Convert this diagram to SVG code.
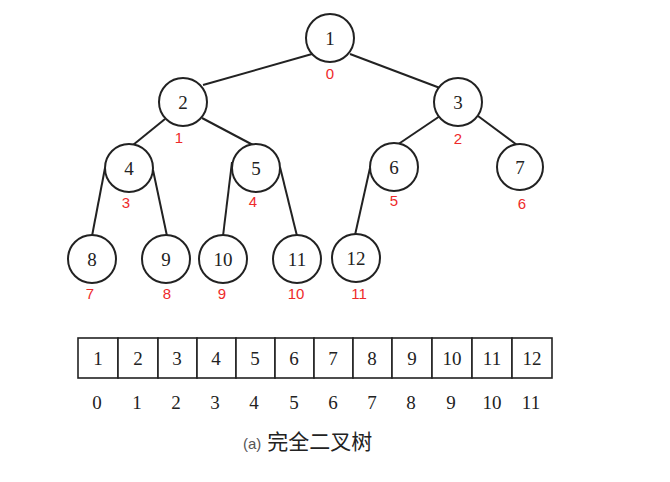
<svg xmlns="http://www.w3.org/2000/svg" width="670" height="482" viewBox="0 0 670 482">
<style>
.n circle{fill:#fff;stroke:#222;stroke-width:2}
.v{font-family:"Liberation Serif",serif;font-size:19px;fill:#222;text-anchor:middle;dominant-baseline:central}
.i{font-family:"Liberation Sans",sans-serif;font-size:15px;fill:#ee2a2a;text-anchor:middle;dominant-baseline:central}
#edges line{stroke:#222;stroke-width:2}
.cell{fill:#fff;stroke:#222;stroke-width:1.6}
.a{font-family:"Liberation Serif",serif;font-size:19px;fill:#222;text-anchor:middle;dominant-baseline:central}
</style>
<rect width="670" height="482" fill="#fff"/>
<g id="edges">
<line x1="312" y1="54" x2="203" y2="85"/>
<line x1="350" y1="54" x2="440" y2="88"/>
<line x1="165" y1="119" x2="133" y2="145"/>
<line x1="202" y1="118" x2="253" y2="145"/>
<line x1="440" y1="116" x2="397" y2="145"/>
<line x1="478" y1="116" x2="517" y2="145"/>
<line x1="105" y1="168" x2="92" y2="236"/>
<line x1="153" y1="170" x2="167" y2="236"/>
<line x1="232" y1="162" x2="223" y2="236"/>
<line x1="280" y1="167" x2="297" y2="236"/>
<line x1="370" y1="168" x2="355" y2="235"/>
</g>
<g id="n1" class="n"><circle cx="330" cy="38" r="24"/><text class="v" x="330" y="38">1</text><text class="i" x="330" y="73">0</text></g>
<g id="n2" class="n"><circle cx="183" cy="102" r="24"/><text class="v" x="183" y="102">2</text><text class="i" x="179" y="137">1</text></g>
<g id="n3" class="n"><circle cx="458" cy="102" r="24"/><text class="v" x="458" y="102">3</text><text class="i" x="458" y="138">2</text></g>
<g id="n4" class="n"><circle cx="129" cy="168" r="24"/><text class="v" x="129" y="168">4</text><text class="i" x="126" y="202">3</text></g>
<g id="n5" class="n"><circle cx="256" cy="168" r="24"/><text class="v" x="256" y="168">5</text><text class="i" x="253" y="201">4</text></g>
<g id="n6" class="n"><circle cx="394" cy="167" r="24"/><text class="v" x="394" y="167">6</text><text class="i" x="394" y="200">5</text></g>
<g id="n7" class="n"><circle cx="520" cy="167" r="23"/><text class="v" x="520" y="167">7</text><text class="i" x="522" y="203">6</text></g>
<g id="n8" class="n"><circle cx="92" cy="259" r="24"/><text class="v" x="92" y="259">8</text><text class="i" x="90" y="293">7</text></g>
<g id="n9" class="n"><circle cx="166" cy="259" r="24"/><text class="v" x="166" y="259">9</text><text class="i" x="167" y="293">8</text></g>
<g id="n10" class="n"><circle cx="223" cy="259" r="24"/><text class="v" x="223" y="259">10</text><text class="i" x="222" y="293">9</text></g>
<g id="n11" class="n"><circle cx="297" cy="259" r="24"/><text class="v" x="297" y="259">11</text><text class="i" x="296" y="293">10</text></g>
<g id="n12" class="n"><circle cx="356" cy="258" r="24"/><text class="v" x="356" y="258">12</text><text class="i" x="359" y="293">11</text></g>
<g id="array">
<rect class="cell" x="78" y="338" width="40" height="40"/>
<rect class="cell" x="118" y="338" width="40" height="40"/>
<rect class="cell" x="158" y="338" width="39" height="40"/>
<rect class="cell" x="197" y="338" width="39" height="40"/>
<rect class="cell" x="236" y="338" width="39" height="40"/>
<rect class="cell" x="275" y="338" width="39" height="40"/>
<rect class="cell" x="314" y="338" width="39" height="40"/>
<rect class="cell" x="353" y="338" width="39" height="40"/>
<rect class="cell" x="392" y="338" width="40" height="40"/>
<rect class="cell" x="432" y="338" width="40" height="40"/>
<rect class="cell" x="472" y="338" width="40" height="40"/>
<rect class="cell" x="512" y="338" width="40" height="40"/>
<text class="a" x="98" y="358">1</text>
<text class="a" x="138" y="358">2</text>
<text class="a" x="177" y="358">3</text>
<text class="a" x="216" y="358">4</text>
<text class="a" x="255" y="358">5</text>
<text class="a" x="294" y="358">6</text>
<text class="a" x="333" y="358">7</text>
<text class="a" x="372" y="358">8</text>
<text class="a" x="412" y="358">9</text>
<text class="a" x="452" y="358">10</text>
<text class="a" x="492" y="358">11</text>
<text class="a" x="532" y="358">12</text>
<text class="a" x="97" y="402">0</text>
<text class="a" x="137" y="402">1</text>
<text class="a" x="176" y="402">2</text>
<text class="a" x="215" y="402">3</text>
<text class="a" x="254" y="402">4</text>
<text class="a" x="294" y="402">5</text>
<text class="a" x="333" y="402">6</text>
<text class="a" x="372" y="402">7</text>
<text class="a" x="411" y="402">8</text>
<text class="a" x="451" y="402">9</text>
<text class="a" x="492" y="402">10</text>
<text class="a" x="531" y="402">11</text>
</g>
<text x="243" y="449" font-family="'Liberation Sans','Noto Sans CJK SC',sans-serif" font-size="21" fill="#222"><tspan font-size="15" fill="#555">(a)</tspan> 完全二叉树</text>
</svg>
